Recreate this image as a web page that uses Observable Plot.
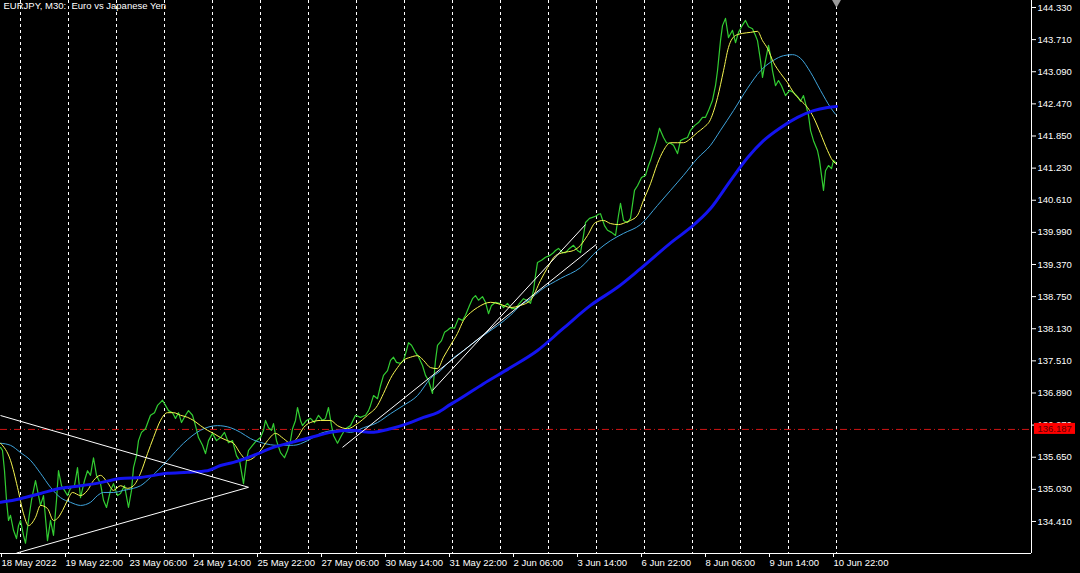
<!DOCTYPE html>
<html><head><meta charset="utf-8">
<script src="https://cdn.jsdelivr.net/npm/d3@7"></script>
<script src="https://cdn.jsdelivr.net/npm/@observablehq/plot@0.6"></script>
<style>
html,body{margin:0;padding:0;background:#000;overflow:hidden}
</style></head><body><div id="chart"></div>
<script>
const title = "EURJPY, M30:  Euro vs Japanese Yen";
// bar index = number of M30 bars since 18 May 2022 14:00
const xTickBars = [0,64,128,192,256,320,384,448,512,576,640,704,768,832];
const xTickLabels = ["18 May 2022","19 May 22:00","23 May 06:00","24 May 14:00","25 May 22:00","27 May 06:00","30 May 14:00","31 May 22:00","2 Jun 06:00","3 Jun 14:00","6 Jun 22:00","8 Jun 06:00","9 Jun 14:00","10 Jun 22:00"];
const gridBars = [20,68,116,164,212,260,308,356,404,452,500,548,596,644,692,740,788,836];
const yTicks = [134.41,135.03,135.65,136.27,136.89,137.51,138.13,138.75,139.37,139.99,140.61,141.23,141.85,142.47,143.09,143.71,144.33];
const lastPrice = 136.187;
const lastBar = 836;

const closeSeries = [[0,135.84],[2,135.78],[4,135.39],[6,134.82],[8,134.43],[10,134.53],[13,134.24],[16,134.08],[18,134.33],[20,134.43],[23,134.14],[25,133.99],[28,134.43],[31,134.82],[35,135.20],[37,135.01],[40,134.72],[43,134.91],[47,134.04],[50,134.43],[53,134.14],[56,134.82],[58,135.39],[61,135.10],[64,135.01],[67,134.91],[70,135.05],[74,135.10],[77,135.45],[80,134.87],[84,135.20],[87,135.39],[90,135.30],[93,135.64],[96,135.30],[100,135.14],[103,134.82],[106,134.68],[110,135.01],[113,135.14],[117,134.91],[120,134.95],[124,135.10],[128,134.68],[131,135.01],[133,135.45],[136,135.68],[138,135.97],[141,136.13],[145,136.20],[148,136.36],[150,136.46],[154,136.51],[157,136.65],[160,136.71],[162,136.75],[165,136.65],[168,136.55],[172,136.51],[175,136.40],[178,136.51],[181,136.32],[185,136.46],[188,136.55],[192,136.46],[195,136.26],[198,136.03],[202,135.88],[205,135.72],[208,135.97],[212,136.11],[216,135.97],[220,136.03],[224,136.13],[228,135.93],[232,135.97],[236,135.68],[239,135.59],[243,135.14],[246,135.59],[248,135.78],[252,135.88],[256,135.97],[260,136.03],[263,136.17],[265,136.36],[268,136.22],[271,136.17],[273,136.30],[276,135.97],[280,135.74],[284,135.64],[287,135.78],[290,135.97],[292,136.20],[295,136.36],[297,136.61],[300,136.36],[302,136.26],[306,136.36],[310,136.40],[314,136.32],[318,136.46],[322,136.36],[325,136.40],[328,136.61],[331,136.26],[333,136.07],[337,135.92],[341,136.07],[345,136.20],[350,136.26],[355,136.46],[360,136.42],[365,136.46],[368,136.55],[370,136.65],[373,136.84],[377,136.78],[380,137.03],[383,137.23],[387,137.32],[390,137.52],[393,137.58],[396,137.48],[400,137.46],[403,137.52],[406,137.71],[408,137.86],[411,137.81],[415,137.67],[418,137.59],[422,137.42],[425,137.23],[428,137.13],[432,136.88],[435,137.52],[437,137.81],[441,137.90],[444,138.06],[447,138.10],[450,138.15],[454,138.14],[458,138.33],[462,138.29],[465,138.39],[469,138.58],[472,138.71],[475,138.77],[478,138.68],[482,138.75],[485,138.64],[488,138.42],[491,138.58],[495,138.64],[499,138.62],[503,138.54],[507,138.62],[511,138.52],[515,138.52],[519,138.62],[523,138.71],[526,138.68],[530,138.62],[533,138.87],[535,139.16],[537,139.41],[541,139.45],[545,139.51],[549,139.54],[552,139.58],[555,139.64],[558,139.68],[562,139.60],[565,139.60],[569,139.68],[573,139.74],[577,139.64],[580,139.60],[583,139.93],[585,140.18],[589,140.26],[592,140.28],[595,140.30],[598,140.34],[600,140.35],[604,140.12],[607,140.03],[611,139.99],[615,139.93],[618,140.32],[620,140.55],[623,140.22],[627,140.18],[630,140.26],[634,140.80],[637,140.89],[641,141.05],[645,141.09],[648,141.28],[650,141.38],[653,141.57],[656,141.76],[659,142.00],[663,141.82],[666,141.72],[670,141.71],[673,141.67],[677,141.51],[680,141.76],[684,141.80],[687,141.82],[690,141.96],[694,142.05],[698,142.11],[702,142.21],[705,142.21],[708,142.34],[712,142.54],[715,142.82],[717,143.11],[720,143.69],[722,143.98],[725,144.12],[728,143.75],[732,143.89],[735,143.65],[738,143.85],[741,143.96],[745,144.08],[748,143.96],[752,143.92],[755,143.79],[757,143.69],[760,143.31],[762,142.98],[765,143.31],[768,143.60],[770,143.40],[772,143.11],[775,142.82],[778,142.92],[781,142.82],[785,142.63],[789,142.73],[793,142.69],[797,142.61],[800,142.52],[803,142.63],[805,142.48],[808,142.25],[810,141.96],[813,141.76],[817,141.57],[819,141.38],[821,141.09],[823,140.80],[825,141.18],[828,141.28],[831,141.22],[833,141.38],[835,141.34]];

const maFast = [[0,135.92],[10,135.59],[17,135.07],[23,134.56],[28,134.33],[35,134.49],[40,134.72],[47,134.66],[53,134.43],[57,134.47],[62,134.62],[67,134.82],[72,134.97],[80,134.91],[87,135.01],[93,135.20],[100,135.30],[107,135.16],[113,135.01],[120,135.10],[127,135.05],[133,135.10],[140,135.34],[147,135.72],[153,136.03],[160,136.36],[167,136.51],[173,136.51],[180,136.46],[187,136.42],[193,136.36],[200,136.26],[207,136.17],[213,136.11],[220,136.03],[227,135.97],[233,135.92],[240,135.72],[247,135.59],[253,135.64],[260,135.78],[267,135.97],[275,136.11],[283,136.01],[290,135.92],[297,136.03],[303,136.22],[310,136.32],[320,136.36],[330,136.36],[337,136.26],[347,136.20],[357,136.30],[367,136.46],[377,136.65],[383,136.88],[390,137.17],[397,137.38],[403,137.52],[410,137.58],[417,137.61],[423,137.52],[430,137.38],[437,137.36],[443,137.58],[450,137.81],[457,138.04],[463,138.29],[470,138.44],[477,138.54],[490,138.64],[500,138.60],[510,138.54],[520,138.58],[530,138.68],[540,139.06],[547,139.31],[555,139.54],[563,139.60],[573,139.64],[580,139.74],[587,139.93],[595,140.18],[603,140.22],[610,140.16],[618,140.14],[625,140.18],[630,140.22],[637,140.32],[643,140.61],[650,140.93],[657,141.32],[663,141.57],[670,141.72],[677,141.72],[683,141.72],[690,141.80],[697,141.92],[703,142.01],[710,142.17],[717,142.59],[723,143.11],[728,143.56],[735,143.79],[742,143.83],[750,143.85],[757,143.87],[762,143.69],[767,143.54],[773,143.27],[780,143.06],[787,142.88],[793,142.69],[800,142.54],[807,142.40],[813,142.21],[820,141.90],[827,141.57],[832,141.38],[835,141.32]];

const maMid = [[0,135.92],[10,135.88],[20,135.74],[30,135.59],[40,135.34],[50,135.07],[60,134.87],[70,134.78],[80,134.72],[90,134.78],[97,134.91],[103,134.97],[113,134.97],[123,135.01],[133,135.05],[140,135.10],[150,135.26],[167,135.59],[183,135.92],[200,136.17],[217,136.26],[230,136.22],[240,136.13],[250,136.01],[263,135.92],[277,135.88],[293,135.88],[307,135.97],[320,136.11],[337,136.17],[350,136.13],[363,136.22],[377,136.32],[390,136.49],[403,136.65],[417,136.84],[430,137.17],[440,137.32],[450,137.52],[463,137.71],[480,137.96],[497,138.19],[510,138.39],[520,138.58],[530,138.71],[540,138.87],[560,139.10],[580,139.31],[597,139.64],[610,139.83],[623,139.97],[640,140.14],[657,140.51],[670,140.80],[683,141.09],[697,141.42],[710,141.67],[720,141.96],[733,142.34],[747,142.77],[760,143.11],[773,143.31],[783,143.40],[792,143.42],[800,143.35],[810,143.08],[820,142.73],[830,142.40],[835,142.27]];

const maSlow = [[0,134.78],[20,134.85],[40,134.95],[60,135.05],[80,135.10],[100,135.16],[120,135.24],[140,135.26],[167,135.34],[187,135.36],[207,135.39],[220,135.49],[233,135.55],[247,135.64],[260,135.74],[270,135.82],[290,135.93],[310,136.03],[330,136.13],[350,136.17],[370,136.13],[390,136.20],[407,136.30],[423,136.42],[437,136.51],[450,136.67],[457,136.75],[483,137.07],[510,137.38],[537,137.71],[563,138.14],[590,138.58],[617,138.93],[640,139.29],[673,139.83],[690,140.08],[710,140.45],[730,140.99],[747,141.43],[763,141.76],[780,142.01],[797,142.21],[813,142.34],[827,142.40],[836,142.42]];

// hand-drawn trend lines: [bar1, price1, bar2, price2]
const trendLines = [
  [0,136.455,248,135.07],
  [16,133.80,248,135.07],
  [342,135.84,596,139.76],
  [432,136.94,585,140.14]
];

const fontFam = "'Liberation Sans',Arial,sans-serif";
const chart = Plot.plot({
  width:1080, height:573,
  marginLeft:0, marginTop:0, marginRight:49, marginBottom:20,
  x:{type:"linear", domain:[0,1031], axis:null},
  y:{domain:[133.792,144.465], axis:null},
  style:{background:"#000", color:"#fff", fontFamily:fontFam, fontSize:"9.5px"},
  marks:[
    Plot.ruleX(gridBars, {stroke:"#fff", strokeDasharray:"3,3", strokeWidth:1}),
    Plot.ruleY([lastPrice], {stroke:"#d01414", strokeDasharray:"7,3,1,3", strokeWidth:1}),
    Plot.line(closeSeries, {x:d=>d[0], y:d=>d[1], stroke:"#32cd32", strokeWidth:1.2}),
    Plot.line(maMid, {x:d=>d[0], y:d=>d[1], stroke:"#3fa4dc", strokeWidth:1, curve:"monotone-x"}),
    Plot.line(maFast, {x:d=>d[0], y:d=>d[1], stroke:"#f6f650", strokeWidth:1, curve:"monotone-x"}),
    Plot.line(maSlow, {x:d=>d[0], y:d=>d[1], stroke:"#1414f0", strokeWidth:3, curve:"monotone-x"}),
    Plot.link(trendLines, {x1:d=>d[0], y1:d=>d[1], x2:d=>d[2], y2:d=>d[3], stroke:"#fff", strokeWidth:1}),
    Plot.ruleX([1031], {stroke:"#fff", strokeWidth:1}),
    Plot.ruleY([133.792], {stroke:"#fff", strokeWidth:1}),
    Plot.axisY({anchor:"right", ticks:yTicks, tickFormat:d=>d.toFixed(3), tickSize:4, tickPadding:2, stroke:"#fff", fill:"#fff", fontSize:9.5}),
    Plot.axisX({anchor:"bottom", ticks:xTickBars, tickFormat:d=>xTickLabels[xTickBars.indexOf(d)], tickSize:4, tickPadding:2, textAnchor:"start", dx:1, stroke:"#fff", fill:"#fff", fontSize:9.5}),
    Plot.rect([lastPrice], {x1:1034, x2:1075, y1:d=>d, y2:d=>d, insetTop:-6, insetBottom:-5, fill:"#ff0000"}),
    Plot.text([lastPrice], {x:1037, y:d=>d, text:d=>d.toFixed(3), fill:"#5a0000", textAnchor:"start", fontSize:9.5}),
    Plot.dot([lastBar], {x:d=>d, frameAnchor:"top", dy:1, symbol:"triangle", rotate:180, r:4, fill:"#9a9a9a", stroke:null}),
    Plot.text([title], {frameAnchor:"top-left", dx:3, dy:2, lineAnchor:"top", textAnchor:"start", fill:"#fff", fontSize:9.5})
  ]
});
document.getElementById("chart").appendChild(chart);
</script></body></html>
